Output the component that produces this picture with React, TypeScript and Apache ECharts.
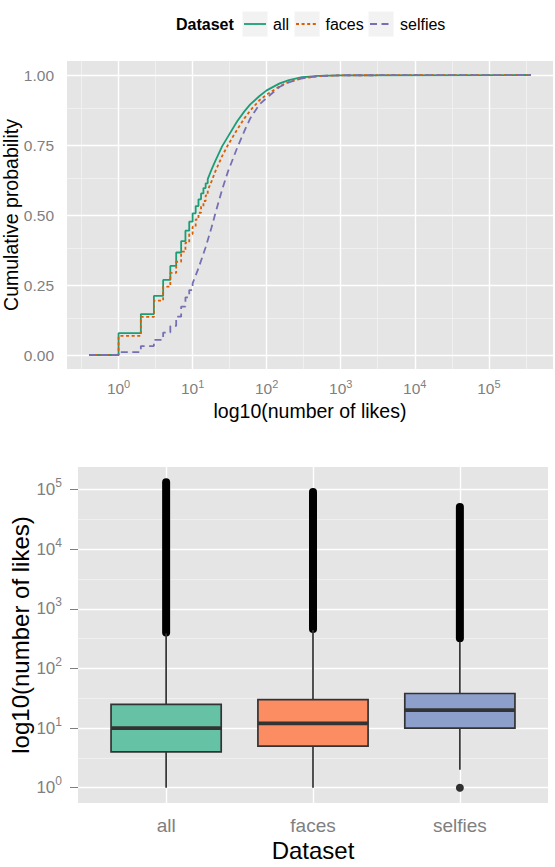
import React, { useEffect, useRef } from "react";
import * as echarts from "echarts";

// ---- data -------------------------------------------------------------
const datasets = ["all", "faces", "selfies"];
const lineColors = ["#1B9E77", "#D95F02", "#7570B3"];
const boxColors = ["#66C2A5", "#FC8D62", "#8DA0CB"];

// Empirical CDF of likes per dataset: integer steps, then the smooth tail
const ecdfStartLikes = 0.4;
const ecdfEndLikes = 370000;

const allStepLikes = [1, 2, 3, 4, 5, 6, 7, 8, 9, 10, 11, 12, 13, 14, 15, 16];
const allStepProb = [0.078, 0.146, 0.211, 0.268, 0.318, 0.366, 0.407, 0.444, 0.476, 0.506, 0.532, 0.556, 0.577, 0.596, 0.613, 0.628];
const allTailLikes = [18, 20, 25, 30, 40, 50, 60, 80, 100, 150, 200, 300, 500, 1000];
const allTailProb = [0.662, 0.69, 0.745, 0.78, 0.835, 0.87, 0.895, 0.925, 0.945, 0.97, 0.982, 0.992, 0.997, 0.999];

const facesStepLikes = [1, 2, 3, 4, 5, 6, 7, 8, 9, 10, 11, 12, 13, 14, 15, 16];
const facesStepProb = [0.068, 0.136, 0.194, 0.244, 0.293, 0.333, 0.369, 0.401, 0.432, 0.458, 0.484, 0.508, 0.53, 0.55, 0.57, 0.588];
const facesTailLikes = [18, 20, 25, 30, 40, 50, 60, 80, 100, 150, 200, 300, 500, 1000];
const facesTailProb = [0.62, 0.652, 0.71, 0.75, 0.805, 0.845, 0.873, 0.91, 0.93, 0.96, 0.975, 0.988, 0.996, 0.999];

const selfiesStepLikes = [1, 2, 3, 4, 5, 6, 7, 8, 9, 10];
const selfiesStepProb = [0.01, 0.032, 0.054, 0.08, 0.104, 0.137, 0.173, 0.206, 0.232, 0.256];
const selfiesTailLikes = [12, 15, 18, 20, 25, 30, 40, 50, 60, 80, 100, 150, 200, 300, 500, 1000];
const selfiesTailProb = [0.31, 0.385, 0.455, 0.5, 0.59, 0.655, 0.74, 0.8, 0.845, 0.895, 0.918, 0.958, 0.974, 0.988, 0.996, 0.999];

// Box plot statistics (likes): lower whisker, Q1, median, Q3, upper whisker
const boxAll = [1, 4, 10, 25, 385];
const boxFaces = [1, 5, 12, 30, 440];
const boxSelfies = [2, 10, 20, 38, 280];
// upper outliers are dense enough to merge into one run: [lowest, highest]
const outliersHighAll = [400, 132000];
const outliersHighFaces = [460, 91000];
const outliersHighSelfies = [320, 51000];
// isolated low outliers (dataset index, likes)
const lowOutliers = [[2, 1]];

const probTicks = [0, 0.25, 0.5, 0.75, 1];
const probMinor = [0.125, 0.375, 0.625, 0.875];

// ---- helpers ------------------------------------------------------------
const log10 = Math.log10;
const expand = (lo: number, hi: number, f = 0.05) => {
  const d = (hi - lo) * f;
  return [lo - d, hi + d];
};

function ecdfPoints(stepLikes: number[], stepProb: number[], tailLikes: number[], tailProb: number[]) {
  const pts: number[][] = [[log10(ecdfStartLikes), 0]];
  let prev = 0;
  stepLikes.forEach((k, i) => {
    pts.push([log10(k), prev]);
    pts.push([log10(k), stepProb[i]]);
    prev = stepProb[i];
  });
  tailLikes.forEach((k, i) => pts.push([log10(k), tailProb[i]]));
  pts.push([log10(ecdfEndLikes), 1]);
  return pts;
}

const ecdfSeries = [
  ecdfPoints(allStepLikes, allStepProb, allTailLikes, allTailProb),
  ecdfPoints(facesStepLikes, facesStepProb, facesTailLikes, facesTailProb),
  ecdfPoints(selfiesStepLikes, selfiesStepProb, selfiesTailLikes, selfiesTailProb),
];
const dashes: any[] = ["solid", [3, 2.6], [7, 4.5]];

const boxes = [boxAll, boxFaces, boxSelfies];
const outHigh = [outliersHighAll, outliersHighFaces, outliersHighSelfies];

const FONT = "'Liberation Sans', Arial, Helvetica, sans-serif";
const TICK_GREY = "#7F7F7F";
const PANEL = "#E5E5E5";
const MINOR = "#F2F2F2";

const range = (a: number, b: number, step = 1) => {
  const out: number[] = [];
  for (let v = a; v <= b + 1e-9; v += step) out.push(v);
  return out;
};

export default function App() {
  const ref = useRef<HTMLDivElement>(null);

  useEffect(() => {
    if (!ref.current) return;
    const chart = echarts.init(ref.current, null, { renderer: "svg" });

    // top panel limits
    const [xMin, xMax] = expand(log10(ecdfStartLikes), log10(ecdfEndLikes));
    const [pMin, pMax] = expand(0, 1);
    const decadeTicks = range(Math.ceil(xMin), Math.floor(xMax));
    const decadeMinor = range(Math.ceil(xMin - 0.5) + 0.5, xMax, 1).filter((v) => v > xMin && v < xMax);

    // bottom panel limits
    const allLogs: number[] = [];
    boxes.forEach((b) => b.forEach((v) => allLogs.push(log10(v))));
    outHigh.forEach((o) => o.forEach((v) => allLogs.push(log10(v))));
    lowOutliers.forEach((o) => allLogs.push(log10(o[1])));
    const [yMin, yMax] = expand(Math.min(...allLogs), Math.max(...allLogs));
    const yTicks = range(Math.ceil(yMin), Math.floor(yMax));
    const yMinor = range(Math.ceil(yMin - 0.5) + 0.5, yMax, 1).filter((v) => v > yMin && v < yMax);
    const catTicks = datasets.map((_, i) => i + 1);

    const major = { color: "#FFFFFF", width: 1.4, type: "solid" };
    const minor = { color: MINOR, width: 0.8, type: "solid" };
    const gridLines = (xs: number[], ys: number[], style: any) => [
      ...xs.map((v) => ({ xAxis: v, lineStyle: style })),
      ...ys.map((v) => ({ yAxis: v, lineStyle: style })),
    ];
    const gridHost = (idx: number, data: any[]) => ({
      type: "line",
      xAxisIndex: idx,
      yAxisIndex: idx,
      data: [],
      z: 1,
      silent: true,
      markLine: {
        z: 1,
        silent: true,
        symbol: ["none", "none"],
        label: { show: false },
        emphasis: { disabled: true },
        animation: false,
        data,
      },
    });

    const powLabel = (v: number) => `{b|10}{s|${Math.round(v)}}`;

    const legendX = { title: 176, boxes: [242, 294, 368], texts: [273, 325.5, 400] };
    const legendY = 24;
    const legendGraphics: any[] = [
      {
        type: "text",
        x: legendX.title,
        y: legendY,
        style: { text: "Dataset", fontFamily: FONT, fontSize: 16, fontWeight: "bold", fill: "#000", align: "left", verticalAlign: "middle" },
      },
    ];
    datasets.forEach((name, i) => {
      const bx = legendX.boxes[i];
      legendGraphics.push({
        type: "rect",
        shape: { x: bx, y: legendY - 13, width: 26, height: 26 },
        style: { fill: MINOR, stroke: "#FFFFFF", lineWidth: 1 },
      });
      legendGraphics.push({
        type: "line",
        shape: { x1: bx + 2, y1: legendY, x2: bx + 24, y2: legendY },
        style: { stroke: lineColors[i], lineWidth: 1.8, lineDash: dashes[i] === "solid" ? null : dashes[i] },
      });
      legendGraphics.push({
        type: "text",
        x: legendX.texts[i],
        y: legendY,
        style: { text: name, fontFamily: FONT, fontSize: 16, fill: "#000", align: "left", verticalAlign: "middle" },
      });
    });

    const option: any = {
      animation: false,
      textStyle: { fontFamily: FONT },
      graphic: legendGraphics,
      grid: [
        { left: 67, top: 61, width: 486, height: 308, show: true, backgroundColor: PANEL, borderWidth: 0, containLabel: false, outerBoundsMode: "none" },
        { left: 78, top: 467, width: 470, height: 336, show: true, backgroundColor: PANEL, borderWidth: 0, containLabel: false, outerBoundsMode: "none" },
      ],
      xAxis: [
        {
          type: "value",
          gridIndex: 0,
          min: xMin,
          max: xMax,
          axisLine: { show: false },
          splitLine: { show: false },
          axisTick: { show: true, customValues: decadeTicks, length: 6, lineStyle: { color: TICK_GREY, width: 1 } },
          axisLabel: {
            customValues: decadeTicks,
            formatter: powLabel,
            margin: 9,
            rich: {
              b: { fontSize: 15.5, color: TICK_GREY, fontFamily: FONT },
              s: { fontSize: 11, color: TICK_GREY, fontFamily: FONT, padding: [0, 0, 10, 0] },
            },
          },
          name: "log10(number of likes)",
          nameLocation: "middle",
          nameGap: 32,
          nameTextStyle: { fontSize: 19.5, color: "#000", fontFamily: FONT },
        },
        {
          type: "value",
          gridIndex: 1,
          min: 1 - 0.6,
          max: datasets.length + 0.6,
          axisLine: { show: false },
          splitLine: { show: false },
          axisTick: { show: true, customValues: catTicks, length: 8, lineStyle: { color: TICK_GREY, width: 1 } },
          axisLabel: {
            customValues: catTicks,
            formatter: (v: number) => datasets[Math.round(v) - 1] ?? "",
            margin: 13,
            fontSize: 19,
            color: TICK_GREY,
          },
          name: "Dataset",
          nameLocation: "middle",
          nameGap: 35,
          nameTextStyle: { fontSize: 24, color: "#000", fontFamily: FONT },
        },
      ],
      yAxis: [
        {
          type: "value",
          gridIndex: 0,
          min: pMin,
          max: pMax,
          axisLine: { show: false },
          splitLine: { show: false },
          axisTick: { show: true, customValues: probTicks, length: 6, lineStyle: { color: TICK_GREY, width: 1 } },
          axisLabel: {
            customValues: probTicks,
            formatter: (v: number) => v.toFixed(2),
            margin: 13,
            fontSize: 15.5,
            color: TICK_GREY,
          },
          name: "Cumulative probability",
          nameLocation: "middle",
          nameMoveOverlap: false,
          nameGap: 46,
          nameTextStyle: { fontSize: 19.5, color: "#000", fontFamily: FONT },
        },
        {
          type: "value",
          gridIndex: 1,
          min: yMin,
          max: yMax,
          axisLine: { show: false },
          splitLine: { show: false },
          axisTick: { show: true, customValues: yTicks, length: 8, lineStyle: { color: TICK_GREY, width: 1 } },
          axisLabel: {
            customValues: yTicks,
            formatter: powLabel,
            margin: 16,
            rich: {
              b: { fontSize: 17, color: TICK_GREY, fontFamily: FONT },
              s: { fontSize: 12, color: TICK_GREY, fontFamily: FONT, padding: [0, 0, 13, 0] },
            },
          },
          name: "log10(number of likes)",
          nameLocation: "middle",
          nameMoveOverlap: false,
          nameGap: 46,
          nameTextStyle: { fontSize: 24, color: "#000", fontFamily: FONT },
        },
      ],
      series: [
        gridHost(0, [...gridLines(decadeMinor, probMinor, minor), ...gridLines(decadeTicks, probTicks, major)]),
        gridHost(1, [...gridLines([], yMinor, minor), ...gridLines(catTicks, yTicks, major)]),
        ...datasets.map((name, i) => ({
          type: "line",
          name,
          xAxisIndex: 0,
          yAxisIndex: 0,
          data: ecdfSeries[i],
          showSymbol: false,
          symbol: "none",
          z: 3 + i,
          lineStyle: { color: lineColors[i], width: 1.8, type: dashes[i], cap: "butt" },
          silent: true,
        })),
        {
          type: "custom",
          xAxisIndex: 1,
          yAxisIndex: 1,
          z: 3,
          silent: true,
          encode: { x: 0, y: [1, 2, 3, 4, 5] },
          data: datasets.map((_, i) => [
            i + 1,
            ...boxes[i].map(log10),
            log10(outHigh[i][0]),
            log10(outHigh[i][1]),
          ]),
          renderItem: (params: any, api: any) => {
            const x = api.value(0);
            const lo = api.value(1);
            const q1 = api.value(2);
            const med = api.value(3);
            const q3 = api.value(4);
            const hi = api.value(5);
            const oLo = api.value(6);
            const oHi = api.value(7);
            const half = 0.375;
            const cx = api.coord([x, q1])[0];
            const left = api.coord([x - half, q3]);
            const right = api.coord([x + half, q1]);
            const yOf = (v: number) => api.coord([x, v])[1];
            const stroke = "#333333";
            return {
              type: "group",
              children: [
                {
                  type: "line",
                  shape: { x1: cx, y1: yOf(oLo), x2: cx, y2: yOf(oHi) },
                  style: { stroke: "#000000", lineWidth: 8, lineCap: "round" },
                },
                {
                  type: "line",
                  shape: { x1: cx, y1: yOf(lo), x2: cx, y2: yOf(q1) },
                  style: { stroke, lineWidth: 1.7 },
                },
                {
                  type: "line",
                  shape: { x1: cx, y1: yOf(q3), x2: cx, y2: yOf(hi) },
                  style: { stroke, lineWidth: 1.7 },
                },
                {
                  type: "rect",
                  shape: { x: left[0], y: left[1], width: right[0] - left[0], height: right[1] - left[1] },
                  style: { fill: boxColors[params.dataIndex], stroke, lineWidth: 1.7 },
                },
                {
                  type: "line",
                  shape: { x1: left[0], y1: yOf(med), x2: right[0], y2: yOf(med) },
                  style: { stroke, lineWidth: 3.8 },
                },
              ],
            };
          },
        },
        {
          type: "scatter",
          xAxisIndex: 1,
          yAxisIndex: 1,
          z: 4,
          silent: true,
          symbol: "circle",
          symbolSize: 8,
          itemStyle: { color: "#000000" },
          data: lowOutliers.map(([i, v]) => [i + 1, log10(v)]),
        },
      ],
    };

    chart.setOption(option);
    return () => chart.dispose();
  }, []);

  return (
    <div
      ref={ref}
      style={{ position: "absolute", left: 0, top: 0, width: 555, height: 867, background: "#FFFFFF" }}
    />
  );
}
